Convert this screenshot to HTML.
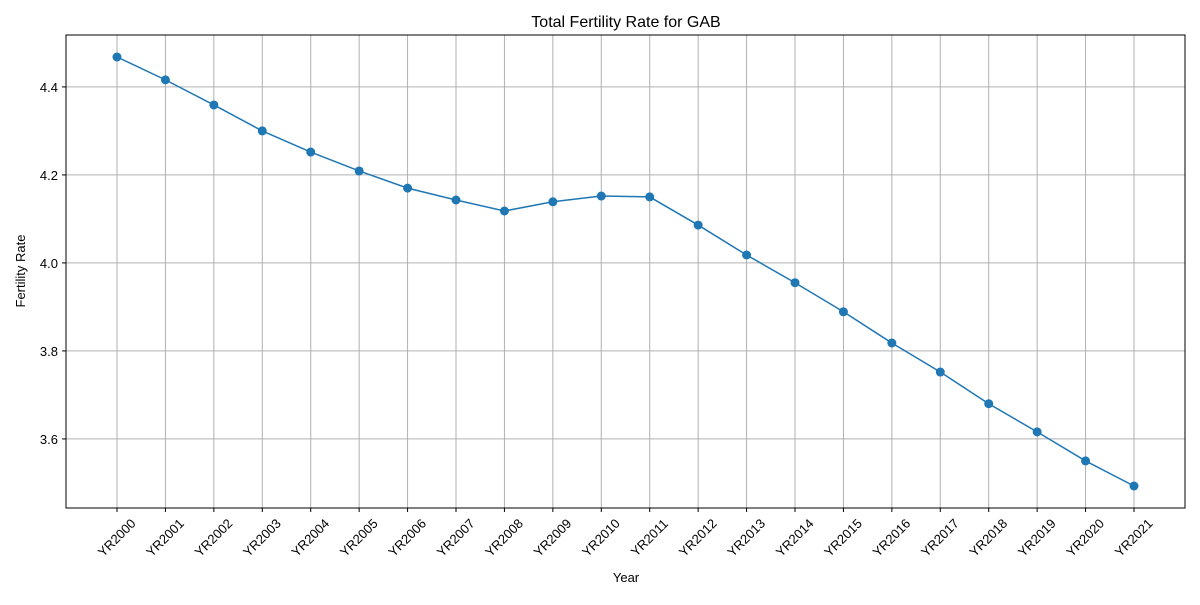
<!DOCTYPE html>
<html><head><meta charset="utf-8"><style>
body{margin:0;background:#fff;}
svg text{font-family:"Liberation Sans","DejaVu Sans",sans-serif;fill:#000;}
</style></head><body>
<svg id="chart" width="1200" height="600" xmlns="http://www.w3.org/2000/svg"></svg>
<script>
const categories=["YR2000","YR2001","YR2002","YR2003","YR2004","YR2005","YR2006","YR2007","YR2008","YR2009","YR2010","YR2011","YR2012","YR2013","YR2014","YR2015","YR2016","YR2017","YR2018","YR2019","YR2020","YR2021"];
const fertility=[4.468,4.416,4.359,4.300,4.252,4.209,4.170,4.143,4.118,4.139,4.152,4.150,4.086,4.018,3.955,3.889,3.818,3.752,3.680,3.616,3.550,3.493];
const yTicks=[3.6,3.8,4.0,4.2,4.4];
const yMin=3.443, yMax=4.518;
const L=66,R=1185,T=35,B=508;
const NS="http://www.w3.org/2000/svg";
const svg=document.getElementById('chart');
function xs(i){return 117+i*(1134-117)/(categories.length-1);}
function ys(v){return B-(v-yMin)/(yMax-yMin)*(B-T);}
function mk(tag,attrs,parent){const e=document.createElementNS(NS,tag);for(const k in attrs)e.setAttribute(k,attrs[k]);(parent||svg).appendChild(e);return e;}
// grid
const grid=mk('g',{});


categories.forEach((c,i)=>{mk('line',{x1:xs(i),x2:xs(i),y1:T,y2:B,stroke:'#b0b0b0','stroke-width':1},grid);});
yTicks.forEach(v=>{mk('line',{x1:L,x2:R,y1:ys(v),y2:ys(v),stroke:'#b0b0b0','stroke-width':1},grid);});
// x ticks/labels
const xa=mk('g',{});


categories.forEach((c,i)=>{
  const x=xs(i);
  mk('line',{x1:x,x2:x,y1:B,y2:B+4,stroke:'#000'},xa);
  const t=mk('text',{x:x,y:542,'font-size':13,'text-anchor':'middle',transform:`rotate(-45 ${x} 538)`},xa);
  t.textContent=c;
  
  
});
const ya=mk('g',{});


yTicks.forEach(v=>{
  const y=ys(v);
  mk('line',{x1:L-4,x2:L,y1:y,y2:y,stroke:'#000'},ya);
  const t=mk('text',{x:L-8,y:y+5,'font-size':13,'text-anchor':'end'},ya);
  t.textContent=v.toFixed(1);
  
  
});
// line
const pts=fertility.map((v,i)=>xs(i)+','+ys(v)).join(' ');
const line=mk('polyline',{points:pts,fill:'none',stroke:'#1f77b4','stroke-width':1.5});


fertility.forEach((v,i)=>{
  const c=mk('circle',{cx:xs(i),cy:ys(v),r:4.5,fill:'#1f77b4'});
  
  
});
// frame
const fr=mk('rect',{x:L,y:T,width:R-L,height:B-T,fill:'none',stroke:'#000','stroke-width':1});


const ti=mk('text',{x:626,y:27,'font-size':16,'text-anchor':'middle'});ti.textContent='Total Fertility Rate for GAB';


const xt=mk('text',{x:626,y:582,'font-size':13,'text-anchor':'middle'});xt.textContent='Year';


const yt=mk('text',{x:25,y:271,'font-size':13,'text-anchor':'middle',transform:'rotate(-90 25 271)'});yt.textContent='Fertility Rate';


</script>
</body></html>
